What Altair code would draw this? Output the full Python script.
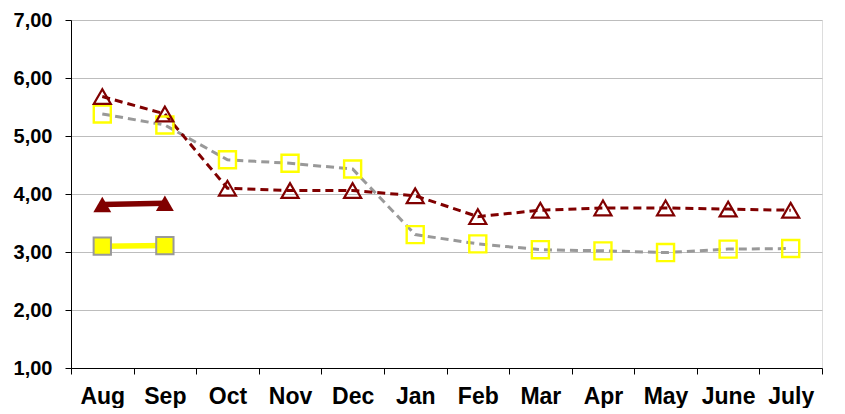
import altair as alt
import pandas as pd

months = ["Aug", "Sep", "Oct", "Nov", "Dec", "Jan", "Feb", "Mar", "Apr", "May", "June", "July"]
red_dashed = [5.68, 5.38, 4.10, 4.06, 4.06, 3.97, 3.61, 3.72, 3.76, 3.76, 3.74, 3.72]
gray_dashed = [5.38, 5.19, 4.59, 4.53, 4.43, 3.30, 3.14, 3.04, 3.02, 2.99, 3.05, 3.06]
red_solid_months = ["Aug", "Sep"]
red_solid = [3.82, 3.84]
yellow_solid_months = ["Aug", "Sep"]
yellow_solid = [3.10, 3.11]

df_rd = pd.DataFrame({"month": months, "value": red_dashed})
df_gd = pd.DataFrame({"month": months, "value": gray_dashed})
df_rs = pd.DataFrame({"month": red_solid_months, "value": red_solid})
df_ys = pd.DataFrame({"month": yellow_solid_months, "value": yellow_solid})

FONT = "Liberation Sans"

x = alt.X(
    "month:N",
    sort=months,
    scale=alt.Scale(type="band", domain=months, paddingInner=0, paddingOuter=0),
    axis=alt.Axis(
        title=None,
        labelAngle=0,
        labelFont=FONT,
        labelFontSize=23,
        labelFontWeight="bold",
        labelColor="#000000",
        labelPadding=11,
        tickBand="extent",
        tickSize=6,
        tickColor="#000000",
        domainColor="#000000",
        grid=False,
    ),
)
y = alt.Y(
    "value:Q",
    scale=alt.Scale(domain=[1, 7], nice=False, zero=False),
    axis=alt.Axis(
        title=None,
        values=[1, 2, 3, 4, 5, 6, 7],
        labelExpr="replace(format(datum.value, '.2f'), '.', ',')",
        labelFont=FONT,
        labelFontSize=20,
        labelFontWeight="bold",
        labelColor="#000000",
        labelPadding=13,
        tickSize=6,
        tickColor="#000000",
        domainColor="#000000",
        gridColor="#bdbdbd",
        gridWidth=1.2,
    ),
)

def base(df):
    return alt.Chart(df).encode(x=x, y=y)

rd_line = base(df_rd).mark_line(color="#800000", strokeWidth=3, strokeDash=[8, 5])
rd_pts = base(df_rd).mark_point(shape="triangle-up", filled=False, color="#800000",
                               strokeWidth=2.2, size=290, opacity=1)
gd_line = base(df_gd).mark_line(color="#999999", strokeWidth=3, strokeDash=[8, 5])
gd_pts = base(df_gd).mark_point(shape="square", filled=False, color="#ffff00",
                               strokeWidth=2.4, size=290, opacity=1)
rs_line = base(df_rs).mark_line(color="#800000", strokeWidth=5.5)
rs_pts = base(df_rs).mark_point(shape="triangle-up", filled=True, color="#800000",
                               size=320, opacity=1)
ys_line = base(df_ys).mark_line(color="#ffff00", strokeWidth=5.5)
ys_pts = base(df_ys).mark_point(shape="square", filled=True, fill="#ffff00",
                               stroke="#999999", strokeWidth=2, size=300, opacity=1)

chart = alt.layer(
    gd_line, rd_line, gd_pts, rd_pts, ys_line, ys_pts, rs_line, rs_pts
).properties(
    width=751,
    height=348,
    autosize=alt.AutoSizeParams(type="none"),
    padding={"left": 63, "top": 12, "right": 15, "bottom": 40},
).configure_view(
    stroke="#333333",
    strokeWidth=1.2,
).configure(background="#ffffff")

chart.save("out.html", embed_options={"renderer": "svg", "actions": False})
